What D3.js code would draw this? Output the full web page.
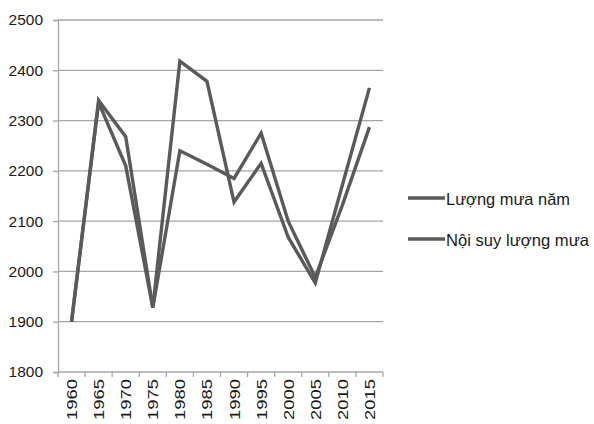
<!DOCTYPE html>
<html>
<head>
<meta charset="utf-8">
<script src="https://cdn.jsdelivr.net/npm/d3@7"></script>
<style>
  html, body { margin: 0; padding: 0; background: #fff; }
  svg { display: block; font-family: "Liberation Sans", Arial, sans-serif; }
</style>
</head>
<body>
<svg id="chart" width="594" height="424"></svg>
<script>
// Annual rainfall by year and the interpolated series
const years = ["1960","1965","1970","1975","1980","1985","1990","1995","2000","2005","2010","2015"];
const luongMuaNam = [1900, 2340, 2268, 1928, 2240, 2213, 2185, 2275, 2100, 1988, 2132, 2287];
const noiSuy      = [1900, 2336, 2210, 1928, 2418, 2378, 2138, 2215, 2068, 1977, 2172, 2365];
const seriesNames = ["Lượng mưa năm", "Nội suy lượng mưa"];
const yTicks = [1800, 1900, 2000, 2100, 2200, 2300, 2400, 2500];

const series = [
  { name: seriesNames[0], values: luongMuaNam },
  { name: seriesNames[1], values: noiSuy }
];

const svg = d3.select("#chart");
const plotLeft = 58, plotRight = 383, plotTop = 20, plotBottom = 372;
const lineColor = "#5a5a5a", gridColor = "#a6a6a6";

const x = d3.scaleBand().domain(years).range([plotLeft, plotRight]);
const y = d3.scaleLinear().domain([1800, 2500]).range([plotBottom, plotTop]);
const cx = d => x(d) + x.bandwidth() / 2;

// horizontal gridlines
svg.append("g").selectAll("line").data(yTicks.slice(1)).join("line")
  .attr("x1", plotLeft).attr("x2", plotRight)
  .attr("y1", d => y(d)).attr("y2", d => y(d))
  .attr("stroke", gridColor).attr("stroke-width", 1.3);

// y axis
const yAxis = svg.append("g").attr("transform", `translate(${plotLeft},0)`)
  .call(d3.axisLeft(y).tickValues(yTicks).tickSize(5).tickPadding(10).tickFormat(d3.format("d")));
yAxis.select(".domain").attr("stroke", gridColor).attr("stroke-width", 1.3);
yAxis.selectAll(".tick line").attr("stroke", gridColor).attr("stroke-width", 1.3);
yAxis.selectAll(".tick text").attr("font-size", 15.5).attr("fill", "#1a1a1a")
  .attr("font-family", "'Liberation Sans', Arial, sans-serif");

// x axis with ticks between categories
const xAxis = svg.append("g").attr("transform", `translate(0,${plotBottom})`);
xAxis.append("line").attr("x1", plotLeft).attr("x2", plotRight)
  .attr("stroke", gridColor).attr("stroke-width", 1.3);
const boundaries = years.map(d => x(d)).concat([x(years[years.length - 1]) + x.bandwidth()]);
xAxis.selectAll("line.tk").data(boundaries).join("line").attr("class", "tk")
  .attr("x1", d => d).attr("x2", d => d).attr("y1", 0).attr("y2", 5)
  .attr("stroke", gridColor).attr("stroke-width", 1.3);
xAxis.selectAll("text").data(years).join("text")
  .attr("transform", d => `translate(${cx(d) + 5.5},7) rotate(-90)`)
  .attr("text-anchor", "end")
  .attr("font-size", 15.5).attr("fill", "#1a1a1a")
  .attr("textLength", 41).attr("lengthAdjust", "spacingAndGlyphs")
  .text(d => d);

// series lines
const line = d3.line().x((v, i) => cx(years[i])).y(v => y(v));
svg.append("g").selectAll("path").data(series).join("path")
  .attr("d", s => line(s.values))
  .attr("fill", "none").attr("stroke", lineColor)
  .attr("stroke-width", 3.4).attr("stroke-linejoin", "miter");

// legend
const legend = svg.append("g").selectAll("g").data(series).join("g")
  .attr("transform", (s, i) => `translate(408,${198 + i * 41})`);
legend.append("line").attr("x1", 0).attr("x2", 37)
  .attr("stroke", lineColor).attr("stroke-width", 3.4);
legend.append("text").attr("x", 38).attr("y", 6.5)
  .attr("font-size", 16.5).attr("fill", "#1a1a1a")
  .attr("textLength", (s, i) => i === 0 ? 124 : 143).attr("lengthAdjust", "spacingAndGlyphs")
  .text(s => s.name);
</script>
</body>
</html>
